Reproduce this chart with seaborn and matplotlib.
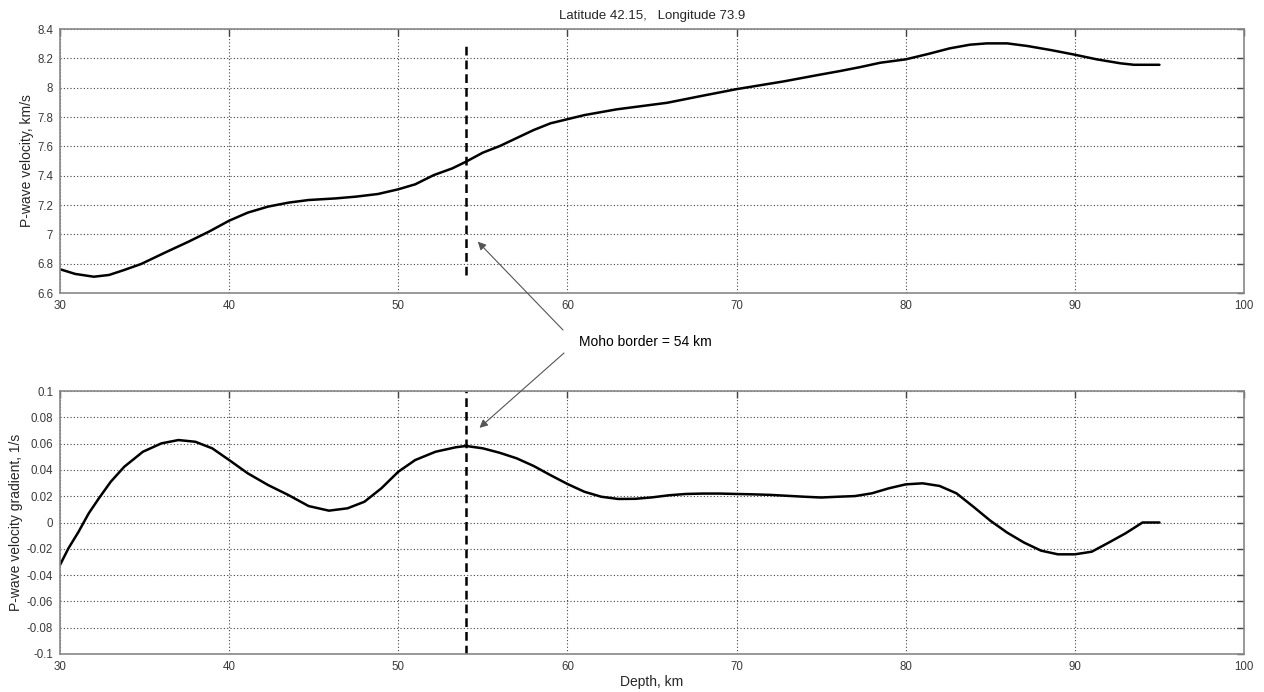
import numpy as np
import pandas as pd
import matplotlib
matplotlib.use("Agg")
import matplotlib.pyplot as plt
import seaborn as sns

# P-wave velocity profile (km/s) versus depth (km)
vel_depth = [30, 30.9, 32, 32.9, 33.8, 34.8, 36.2, 37.6, 38.8, 40, 41.1, 42.3, 43.5,
             44.7, 46.3, 47.5, 48.8, 50, 51, 52.1, 53.2, 54, 55, 56, 58, 59, 61,
             62.9, 65.9, 67.9, 70, 72.8, 74.8, 76.1, 77.3, 78.5, 80, 81.3, 82.6,
             83.8, 84.8, 86, 87.2, 88.6, 89.9, 91.3, 92.7, 93.5, 95]
velocity = [6.762, 6.73, 6.711, 6.723, 6.757, 6.798, 6.875, 6.95, 7.018, 7.093,
            7.148, 7.189, 7.216, 7.234, 7.245, 7.257, 7.275, 7.307, 7.341, 7.404,
            7.45, 7.495, 7.557, 7.602, 7.711, 7.757, 7.813, 7.852, 7.897, 7.943,
            7.99, 8.043, 8.086, 8.113, 8.14, 8.17, 8.193, 8.229, 8.268, 8.293,
            8.302, 8.302, 8.284, 8.256, 8.227, 8.193, 8.166, 8.156, 8.156]

# Vertical velocity gradient (1/s) versus depth (km)
grad_depth = [30, 30.5, 31.1, 31.7, 32.3, 33, 33.8, 34.9, 36, 37, 38, 39, 40, 41.1,
              42.3, 43.5, 44.7, 45.9, 47, 48, 49, 50, 51, 52.2, 53.4, 54, 55, 56,
              57, 58, 59, 60, 61, 62, 63, 64, 65, 66, 67, 68, 69, 70, 71, 72, 73,
              74, 75, 76, 77, 78, 79, 80, 81, 82, 83, 84, 85, 86, 87, 88, 89, 90,
              91, 92, 93, 94, 95]
gradient = [-0.0323, -0.0196, -0.007, 0.007, 0.0184, 0.031, 0.0424, 0.0538, 0.0602,
            0.0627, 0.0614, 0.0564, 0.0475, 0.0374, 0.0285, 0.0209, 0.0125, 0.009,
            0.0108, 0.0158, 0.026, 0.0386, 0.0475, 0.0538, 0.0572, 0.0582, 0.0564,
            0.053, 0.0488, 0.043, 0.036, 0.0293, 0.0234, 0.0196, 0.0179, 0.018,
            0.0191, 0.0207, 0.0217, 0.022, 0.022, 0.0217, 0.0214, 0.021, 0.0203,
            0.0196, 0.019, 0.0196, 0.0201, 0.0222, 0.026, 0.029, 0.0298, 0.0278,
            0.0222, 0.012, 0.0014, -0.0077, -0.0153, -0.0214, -0.0242, -0.0242,
            -0.0222, -0.0153, -0.0082, 0.0, 0.0]

moho_depth = 54
moho_vel_span = [6.72, 8.30]

title_text = "Latitude 42.15,   Longitude 73.9"
x_ticks = [30, 40, 50, 60, 70, 80, 90, 100]
v_ticks = [6.6, 6.8, 7.0, 7.2, 7.4, 7.6, 7.8, 8.0, 8.2, 8.4]
v_tick_labels = ["6.6", "6.8", "7", "7.2", "7.4", "7.6", "7.8", "8", "8.2", "8.4"]
g_ticks = [-0.1, -0.08, -0.06, -0.04, -0.02, 0, 0.02, 0.04, 0.06, 0.08, 0.1]
g_tick_labels = ["-0.1", "-0.08", "-0.06", "-0.04", "-0.02", "0", "0.02", "0.04",
                 "0.06", "0.08", "0.1"]

sns.set_style("white")
plt.rcParams["font.family"] = ["Liberation Sans", "DejaVu Sans"]

W, H = 1264, 692
fig = plt.figure(figsize=(W / 100, H / 100), dpi=100)
left = 60 / W
width = (1244 - 60) / W
ax1 = fig.add_axes([left, (H - 293) / H, width, 264 / H])
ax2 = fig.add_axes([left, (H - 654) / H, width, 263 / H])

df_v = pd.DataFrame({"depth": vel_depth, "vel": velocity})
df_g = pd.DataFrame({"depth": grad_depth, "grad": gradient})

sns.lineplot(data=df_v, x="depth", y="vel", ax=ax1, color="black", lw=1.8)
sns.lineplot(data=df_g, x="depth", y="grad", ax=ax2, color="black", lw=1.8)

ax1.plot([moho_depth, moho_depth], moho_vel_span, color="black", lw=1.8,
         ls=(0, (3.5, 2)))
ax2.plot([moho_depth, moho_depth], [g_ticks[0], g_ticks[-1]], color="black", lw=1.8,
         ls=(0, (3.5, 2)))

for ax, yt, ytl, ylab, lab_x in [
    (ax1, v_ticks, v_tick_labels, "P-wave velocity, km/s", -0.022),
    (ax2, g_ticks, g_tick_labels, "P-wave velocity gradient, 1/s", -0.031),
]:
    ax.set_xlim(30, 100)
    ax.set_ylim(yt[0], yt[-1])
    ax.set_xticks(x_ticks)
    ax.set_xticklabels([str(t) for t in x_ticks])
    ax.set_yticks(yt)
    ax.set_yticklabels(ytl)
    ax.grid(True, color="#444444", ls=(0, (1, 2)), lw=0.8)
    ax.tick_params(direction="in", length=5, width=1, color="#444444",
                   labelsize=8.3, labelcolor="#3a3a3a", top=True, right=True,
                   pad=5)
    for s in ax.spines.values():
        s.set_color("#888888")
        s.set_linewidth(1.2)
    ax.set_ylabel(ylab, fontsize=10)
    ax.yaxis.set_label_coords(lab_x, 0.5)
    ax.set_xlabel("")

ax2.set_xlabel("Depth, km", fontsize=10)
ax2.xaxis.set_label_coords(0.5, -0.078)
ax1.set_title(title_text, fontsize=9.5, pad=7)

# Annotation pointing to the Moho boundary in both panels
fig.text(645 / W, 1 - 342 / H, "Moho border = 54 km", ha="center", va="center",
         fontsize=10, color="black")
arrow = dict(arrowstyle="-|>", color="#555555", lw=0.8, mutation_scale=12,
             shrinkA=0, shrinkB=0)
ax1.annotate("", xy=(54.7, 6.95), xycoords="data",
             xytext=(563, H - 330), textcoords="figure pixels", arrowprops=arrow)
ax2.annotate("", xy=(54.8, 0.072), xycoords="data",
             xytext=(564, H - 353), textcoords="figure pixels", arrowprops=arrow)

fig.savefig("out.png", dpi=100)
